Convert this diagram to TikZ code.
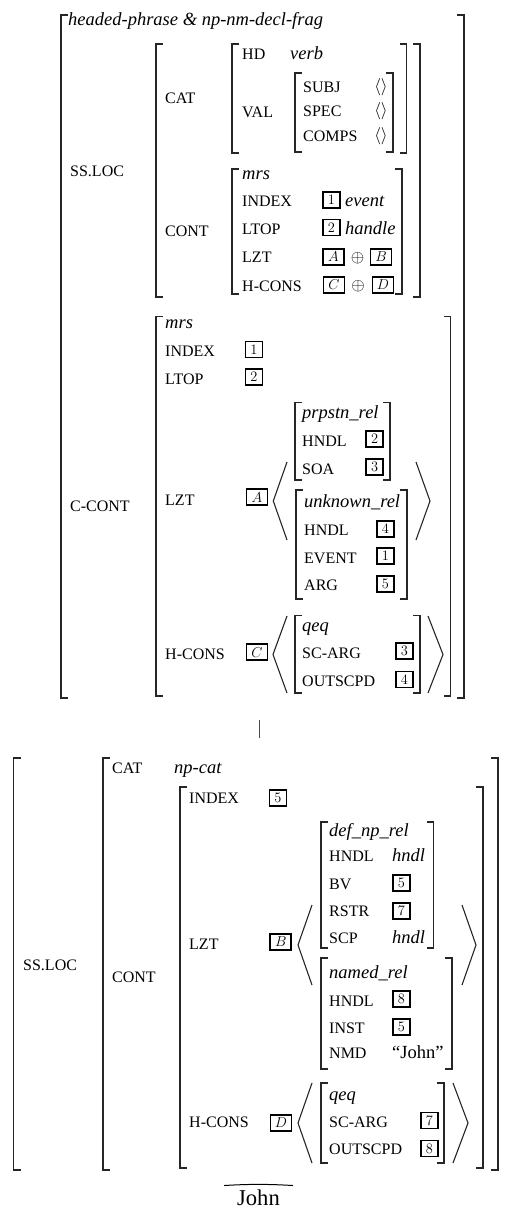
\documentclass[tikz,border=0pt]{standalone}
\usepackage{fontspec}
\setmainfont{Liberation Serif}
\newcommand\LB[3]{\draw[brk] (#1+7,#2) -- (#1,#2) -- (#1,#3) -- (#1+7,#3);}
\newcommand\RB[3]{\draw[brk] (#1-7,#2) -- (#1,#2) -- (#1,#3) -- (#1-7,#3);}
\newcommand\ANG[4]{\draw[ang] (#2,#3) -- (#1,{(#3+#4)/2}) -- (#2,#4);}
\tikzset{
  brk/.style={line width=1.3pt, black!85},
  ang/.style={line width=1.1pt, black!85},
  feat/.style={anchor=base west, inner sep=0pt, font=\fontsize{16}{18}\selectfont},
  typ/.style={anchor=base west, inner sep=0pt, font=\fontsize{18.5}{22}\selectfont\itshape},
  val/.style={anchor=base west, inner sep=0pt, font=\fontsize{18.5}{22}\selectfont},
  tagbox/.style={draw, line width=1.7pt, inner sep=0pt, minimum width=17pt, minimum height=16pt, font=\fontsize{14.4}{16}\selectfont},
  tagwide/.style={tagbox, minimum width=21pt},
  elist/.style={anchor=center, inner sep=0pt, font=\fontsize{17.28}{20}\selectfont},
  opl/.style={anchor=center, inner sep=0pt, font=\fontsize{17.28}{20}\selectfont},
}
\begin{document}
\begin{tikzpicture}[x=1pt,y=-1pt]
\useasboundingbox (0,0) rectangle (504,1209);
% ================= TOP AVM =================
\LB{61}{15}{698} \RB{464}{15}{698}
\node[typ] (t0) at (68,26) {headed-phrase \& np-nm-decl-frag};
\node[feat] (ssloc1) at (70,176.5) {SS.LOC};
\LB{156}{44}{297} \RB{420}{44}{297}
\node[feat] (cat1) at (165,103.5) {CAT};
\LB{232}{44}{153} \RB{406.5}{44}{153}
\node[feat] (hd) at (242,60) {HD};
\node[typ] (verb) at (290,60) {verb};
\node[feat] (val) at (242,117.5) {VAL};
\LB{295}{73}{152} \RB{393}{73}{152}
\node[feat] (subj) at (303,92.5) {SUBJ};
\node[feat] (spec) at (303,116.5) {SPEC};
\node[feat] (comps) at (303,141.5) {COMPS};
\node[elist] (e1) at (381,87) {$\langle\rangle$};
\node[elist] (e2) at (381,111) {$\langle\rangle$};
\node[elist] (e3) at (381,136) {$\langle\rangle$};
\node[feat] (cont1) at (165,236.7) {CONT};
\LB{232}{169}{294} \RB{402}{169}{294}
\node[typ] (mrs1) at (242,179) {mrs};
\node[feat] (idx1) at (242,206.7) {INDEX};
\node[tagbox] (t1a) at (331.3,200) {$1$};
\node[typ] (event) at (345,206.7) {event};
\node[feat] (ltop1) at (242,234) {LTOP};
\node[tagbox] (t2a) at (331.3,227.5) {$2$};
\node[typ] (handle) at (345,234) {handle};
\node[feat] (lzt1) at (242,262.7) {LZT};
\node[tagwide] (tA1) at (333.5,256.7) {$A$};
\node[opl] (op1) at (357.5,258.5) {$\oplus$};
\node[tagwide] (tB1) at (381,256.7) {$B$};
\node[feat] (hc1) at (242,291.7) {H-CONS};
\node[tagwide] (tC1) at (334,285) {$C$};
\node[opl] (op2) at (358,286.5) {$\oplus$};
\node[tagwide] (tD1) at (383,285) {$D$};
% C-CONT
\node[feat] (ccont) at (70,511.7) {C-CONT};
\LB{156}{316.7}{696} \RB{450.5}{316.7}{696}
\node[typ] (mrs2) at (165,328) {mrs};
\node[feat] (idx2) at (165,356.7) {INDEX};
\node[tagbox] (t1b) at (254,349.5) {$1$};
\node[feat] (ltop2) at (165,384) {LTOP};
\node[tagbox] (t2b) at (254,377) {$2$};
\node[feat] (lzt2) at (165,505) {LZT};
\node[tagwide] (tA2) at (257,497.3) {$A$};
\ANG{273.3}{287}{462}{540} \ANG{430}{416}{462}{540}
\LB{295}{402.7}{480} \RB{390}{402.7}{480}
\node[typ] (prp) at (302,418) {prpstn\_rel};
\node[feat] (hndl1) at (302,446) {HNDL};
\node[tagbox] (t2c) at (374.7,439) {$2$};
\node[feat] (soa) at (302,474) {SOA};
\node[tagbox] (t3a) at (374.7,467) {$3$};
\LB{296}{490}{599} \RB{407}{490}{599}
\node[typ] (unk) at (304,507) {unknown\_rel};
\node[feat] (hndl2) at (304,535) {HNDL};
\node[tagbox] (t4a) at (385.3,528.7) {$4$};
\node[feat] (evt) at (304,563) {EVENT};
\node[tagbox] (t1c) at (385.3,556.3) {$1$};
\node[feat] (arg) at (304,590.7) {ARG};
\node[tagbox] (t5a) at (385.3,584) {$5$};
\node[feat] (hc2) at (165,659) {H-CONS};
\node[tagwide] (tC2) at (257,652.3) {$C$};
\ANG{273}{287}{616}{693} \ANG{443}{428}{616}{693}
\LB{295}{615.7}{693} \RB{420}{615.7}{693}
\node[typ] (qeq1) at (302,631.7) {qeq};
\node[feat] (sc1) at (302,658) {SC-ARG};
\node[tagbox] (t3b) at (404.5,651) {$3$};
\node[feat] (out1) at (302,686.7) {OUTSCPD};
\node[tagbox] (t4b) at (404.5,679.5) {$4$};
% ================= connector =================
\coordinate (topavm) at (259,720);
\coordinate (botavm) at (259,738);
\draw[line width=1pt, black!70] (topavm) -- (botavm);
% ================= BOTTOM AVM =================
\LB{13.5}{758}{1170} \RB{498}{758}{1170}
\LB{103}{758}{1170} \RB{498}{758}{1170}
\node[feat] (ssloc2) at (23,970) {SS.LOC};
\node[feat] (cat2) at (112,773) {CAT};
\node[typ] (npcat) at (174,773) {np-cat};
\node[feat] (cont2) at (112,982.7) {CONT};
\LB{180}{787}{1168} \RB{483}{787}{1168}
\node[feat] (idx3) at (189,803) {INDEX};
\node[tagbox] (t5b) at (278,797.8) {$5$};
\node[feat] (lzt3) at (189,949) {LZT};
\node[tagwide] (tB2) at (280.8,942) {$B$};
\ANG{298}{312}{905}{985} \ANG{476}{462}{905}{985}
\LB{321}{822}{948} \RB{433.5}{822}{948}
\node[typ] (defnp) at (329,836.7) {def\_np\_rel};
\node[feat] (hndl3) at (329,861.7) {HNDL};
\node[typ] (hn1) at (392,861.7) {hndl};
\node[feat] (bv) at (329,889) {BV};
\node[tagbox] (t5c) at (401.3,883) {$5$};
\node[feat] (rstr) at (329,916.7) {RSTR};
\node[tagbox] (t7a) at (401.3,911) {$7$};
\node[feat] (scp) at (329,943) {SCP};
\node[typ] (hn2) at (392,943) {hndl};
\LB{321}{958}{1069} \RB{452}{958}{1069}
\node[typ] (named) at (329,978) {named\_rel};
\node[feat] (hndl4) at (329,1006) {HNDL};
\node[tagbox] (t8a) at (401.3,999.2) {$8$};
\node[feat] (inst) at (329,1033) {INST};
\node[tagbox] (t5d) at (401.3,1027.2) {$5$};
\node[feat] (nmd) at (329,1058) {NMD};
\node[val] (jq) at (392,1058) {“John”};
\node[feat] (hc3) at (189,1127.7) {H-CONS};
\node[tagwide] (tD2) at (281,1122.8) {$D$};
\ANG{298}{312}{1083}{1163} \ANG{468}{453}{1083}{1163}
\LB{321}{1083}{1163} \RB{444}{1083}{1163}
\node[typ] (qeq2) at (329,1100) {qeq};
\node[feat] (sc2) at (329,1127) {SC-ARG};
\node[tagbox] (t7b) at (429.5,1120.5) {$7$};
\node[feat] (out2) at (329,1154) {OUTSCPD};
\node[tagbox] (t8b) at (429.5,1148.5) {$8$};
% word
\draw[line width=1pt] (224,1185.5) .. controls (250,1184) and (267,1184) .. (293,1185.5);
\node[anchor=base, inner sep=0pt, font=\fontsize{22.6}{26}\selectfont] (john) at (258.5,1205.5) {John};
\end{tikzpicture}
\end{document}
